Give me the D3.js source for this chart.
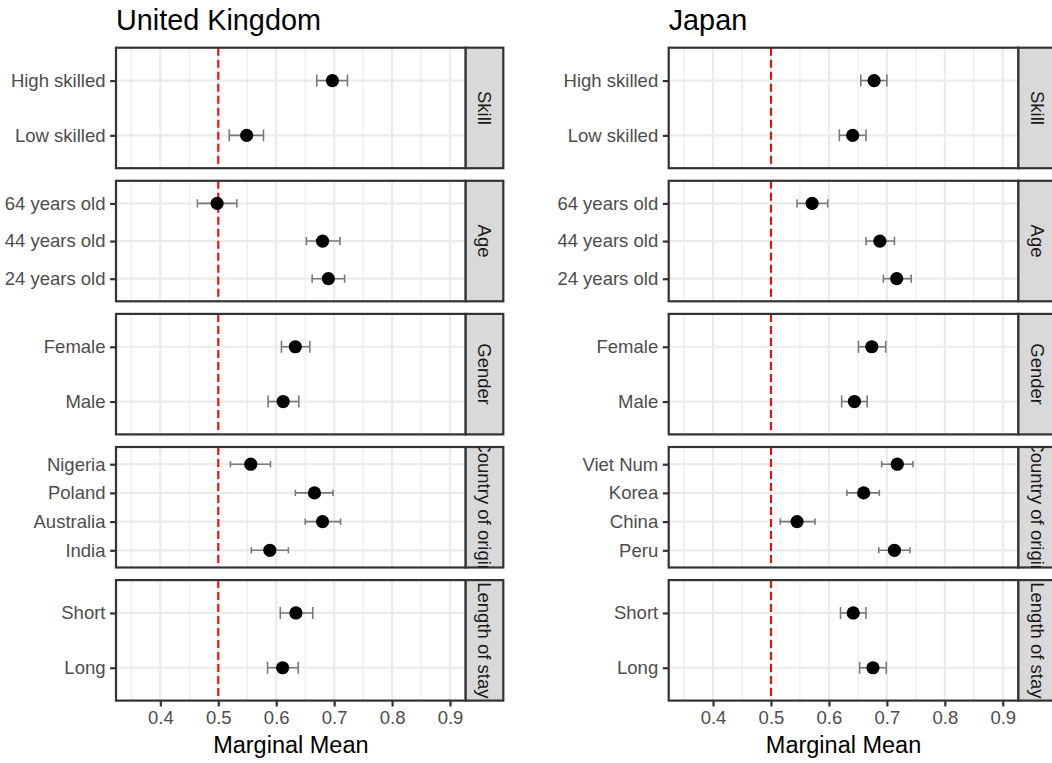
<!DOCTYPE html>
<html>
<head>
<meta charset="utf-8">
<script src="https://cdn.jsdelivr.net/npm/d3@7"></script>
<style>
  body { margin: 0; background: #fff; }
  text { font-family: "Liberation Sans", Arial, Helvetica, sans-serif; }
</style>
</head>
<body>
<svg id="chart" width="1052" height="763"></svg>
<script>
// ======================================================
// DATA
const groups = ["Skill", "Age", "Gender", "Country of origin", "Length of stay"];

const ukLevels = [
  ["High skilled", "Low skilled"],
  ["64 years old", "44 years old", "24 years old"],
  ["Female", "Male"],
  ["Nigeria", "Poland", "Australia", "India"],
  ["Short", "Long"]
];
const ukEstimate = [[0.697, 0.549], [0.498, 0.680, 0.690], [0.633, 0.612], [0.556, 0.666, 0.680, 0.589], [0.634, 0.611]];
const ukLower    = [[0.670, 0.519], [0.464, 0.652, 0.662], [0.609, 0.586], [0.521, 0.633, 0.650, 0.557], [0.607, 0.585]];
const ukUpper    = [[0.723, 0.578], [0.532, 0.710, 0.718], [0.658, 0.639], [0.590, 0.698, 0.711, 0.621], [0.663, 0.638]];

const jpLevels = [
  ["High skilled", "Low skilled"],
  ["64 years old", "44 years old", "24 years old"],
  ["Female", "Male"],
  ["Viet Num", "Korea", "China", "Peru"],
  ["Short", "Long"]
];
const jpEstimate = [[0.678, 0.641], [0.571, 0.688, 0.717], [0.674, 0.644], [0.718, 0.660, 0.545, 0.713], [0.642, 0.676]];
const jpLower    = [[0.655, 0.618], [0.545, 0.664, 0.694], [0.651, 0.622], [0.691, 0.631, 0.516, 0.686], [0.620, 0.653]];
const jpUpper    = [[0.700, 0.664], [0.598, 0.713, 0.742], [0.698, 0.666], [0.745, 0.687, 0.576, 0.740], [0.664, 0.699]];

const xTicks = [0.4, 0.5, 0.6, 0.7, 0.8, 0.9];
const xMinor = [0.35, 0.45, 0.55, 0.65, 0.75, 0.85];
const xDomain = [0.3235, 0.927];
const refLine = 0.5;

// ======================================================
// LAYOUT
const panelW = 349.7, stripW = 37.6;
const panelTop = 47.7, panelH = 120.5, panelGap = 12.6;
const border = "#333333", gridCol = "#EBEBEB";

const plots = [
  {title: "United Kingdom", left: 116, levels: ukLevels, est: ukEstimate, lo: ukLower, hi: ukUpper},
  {title: "Japan", left: 668.7, levels: jpLevels, est: jpEstimate, lo: jpLower, hi: jpUpper}
];

const svg = d3.select("#chart");
const defs = svg.append("defs");

plots.forEach((p, pi) => {
  const g = svg.append("g").attr("transform", "translate(" + p.left + ",0)");

  const xScale = d3.scaleLinear().domain(xDomain).range([0, panelW]);

  // title
  g.append("text")
    .attr("x", 0).attr("y", 30)
    .style("font-size", "28.8px").style("fill", "#000")
    .text(p.title);

  groups.forEach((grp, gi) => {
    const top = panelTop + gi * (panelH + panelGap);
    const panel = g.append("g").attr("transform", "translate(0," + top + ")");

    const yScale = d3.scalePoint()
      .domain(p.levels[gi])
      .range([0, panelH])
      .padding(0.6);

    // background
    panel.append("rect").attr("width", panelW).attr("height", panelH).attr("fill", "#fff");

    // minor grid
    panel.selectAll(".minor").data(xMinor).enter().append("line")
      .attr("x1", d => xScale(d)).attr("x2", d => xScale(d))
      .attr("y1", 0).attr("y2", panelH)
      .attr("stroke", gridCol).attr("stroke-width", 1.15);

    // major grid
    panel.selectAll(".majx").data(xTicks).enter().append("line")
      .attr("x1", d => xScale(d)).attr("x2", d => xScale(d))
      .attr("y1", 0).attr("y2", panelH)
      .attr("stroke", gridCol).attr("stroke-width", 2.2);
    panel.selectAll(".majy").data(p.levels[gi]).enter().append("line")
      .attr("x1", 0).attr("x2", panelW)
      .attr("y1", d => yScale(d)).attr("y2", d => yScale(d))
      .attr("stroke", gridCol).attr("stroke-width", 2.2);

    // reference line
    panel.append("line")
      .attr("x1", xScale(refLine)).attr("x2", xScale(refLine))
      .attr("y1", 0).attr("y2", panelH)
      .attr("stroke", "#FF0000").attr("stroke-width", 2)
      .attr("stroke-dasharray", "8,4");

    const rows = p.levels[gi].map((lev, i) => ({lev: lev, est: p.est[gi][i], lo: p.lo[gi][i], hi: p.hi[gi][i]}));
    const cap = yScale.step() * 0.11;

    // error bars
    const eb = panel.selectAll(".eb").data(rows).enter().append("g")
      .attr("stroke", "#7A7A7A").attr("stroke-width", 1.6);
    eb.append("line")
      .attr("x1", d => xScale(d.lo)).attr("x2", d => xScale(d.hi))
      .attr("y1", d => yScale(d.lev)).attr("y2", d => yScale(d.lev));
    eb.append("line")
      .attr("x1", d => xScale(d.lo)).attr("x2", d => xScale(d.lo))
      .attr("y1", d => yScale(d.lev) - cap).attr("y2", d => yScale(d.lev) + cap);
    eb.append("line")
      .attr("x1", d => xScale(d.hi)).attr("x2", d => xScale(d.hi))
      .attr("y1", d => yScale(d.lev) - cap).attr("y2", d => yScale(d.lev) + cap);

    // points
    panel.selectAll(".pt").data(rows).enter().append("circle")
      .attr("cx", d => xScale(d.est)).attr("cy", d => yScale(d.lev))
      .attr("r", 6.6).attr("fill", "#000");

    // panel border
    panel.append("rect").attr("width", panelW).attr("height", panelH)
      .attr("fill", "none").attr("stroke", border).attr("stroke-width", 2.2);

    // y axis
    const yAxis = panel.append("g")
      .call(d3.axisLeft(yScale).tickSize(5.9).tickPadding(4.6));
    yAxis.select(".domain").remove();
    yAxis.selectAll(".tick line").attr("stroke", border).attr("stroke-width", 2.2);
    yAxis.selectAll(".tick text")
      .style("font-size", "18.5px").style("font-family", "'Liberation Sans', Arial, sans-serif")
      .attr("fill", "#4D4D4D");

    // strip
    const clipId = "clip" + pi + "_" + gi;
    defs.append("clipPath").attr("id", clipId)
      .append("rect").attr("x", panelW).attr("y", 0).attr("width", stripW).attr("height", panelH);
    panel.append("rect")
      .attr("x", panelW).attr("y", 0).attr("width", stripW).attr("height", panelH)
      .attr("fill", "#D9D9D9").attr("stroke", border).attr("stroke-width", 2.2);
    panel.append("g").attr("clip-path", "url(#" + clipId + ")")
      .append("text")
      .attr("transform", "translate(" + (panelW + stripW / 2) + "," + (panelH / 2) + ") rotate(90)")
      .attr("text-anchor", "middle").attr("dy", "0.35em")
      .style("font-size", "18.5px").style("fill", "#1A1A1A")
      .text(grp);

    // x axis under the last panel
    if (gi === groups.length - 1) {
      const xAxis = panel.append("g")
        .attr("transform", "translate(0," + panelH + ")")
        .call(d3.axisBottom(xScale).tickValues(xTicks).tickSize(5.9).tickPadding(4.6)
          .tickFormat(d3.format(".1f")));
      xAxis.select(".domain").remove();
      xAxis.selectAll(".tick line").attr("stroke", border).attr("stroke-width", 2.2);
      xAxis.selectAll(".tick text")
        .style("font-size", "18.5px").style("font-family", "'Liberation Sans', Arial, sans-serif")
        .attr("fill", "#4D4D4D");
    }
  });

  // axis title
  g.append("text")
    .attr("x", panelW / 2).attr("y", 753)
    .attr("text-anchor", "middle")
    .style("font-size", "23.5px").style("fill", "#000")
    .text("Marginal Mean");
});
</script>
</body>
</html>
